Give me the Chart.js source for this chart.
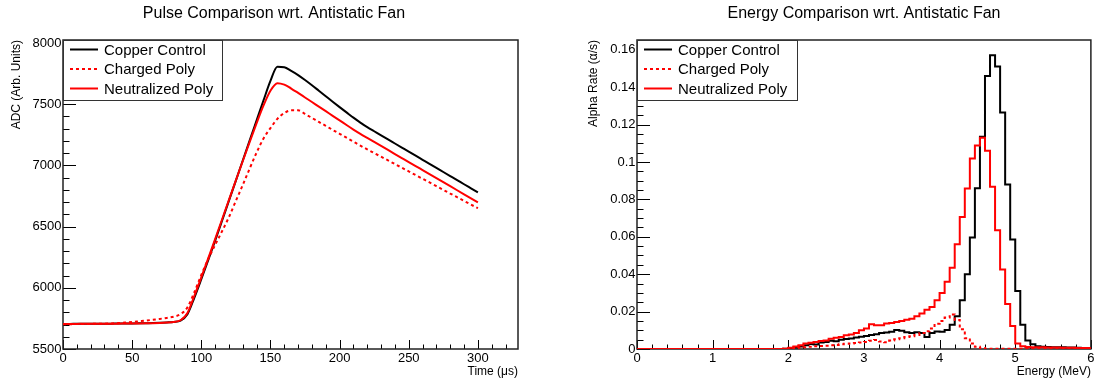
<!DOCTYPE html>
<html>
<head>
<meta charset="utf-8">
<script src="https://cdn.jsdelivr.net/npm/chart.js@4.4.1/dist/chart.umd.min.js"></script>
<style>
  html, body { margin: 0; padding: 0; background: #fff; }
  #wrap { position: relative; width: 1096px; height: 381px; overflow: hidden; }
  canvas { position: absolute; top: 0; }
  #pulse { left: 0; }
  #energy { left: 548px; }
</style>
</head>
<body>
<div id="wrap">
  <canvas id="pulse" width="548" height="381"></canvas>
  <canvas id="energy" width="548" height="381"></canvas>
</div>
<script>
// ---- pulse traces (ADC vs time, sampled every 5 us) ----
const pulseTimes = [
  0, 5, 10, 15, 20, 25, 30, 35, 40, 45,
  50, 55, 60, 65, 70, 75, 80, 85, 90, 95,
  100, 105, 110, 115, 120, 125, 130, 135, 140, 145,
  150, 155, 160, 165, 170, 175, 180, 185, 190, 195,
  200, 205, 210, 215, 220, 225, 230, 235, 240, 245,
  250, 255, 260, 265, 270, 275, 280, 285, 290, 295,
  300
];
const copperPulse = [
  5705, 5705, 5706, 5706, 5706, 5707, 5707, 5707, 5708, 5708,
  5709, 5710, 5711, 5712, 5714, 5717, 5721, 5732, 5785, 5920,
  6070, 6225, 6385, 6548, 6712, 6876, 7040, 7204, 7368, 7532,
  7690, 7806, 7802, 7772, 7738, 7698, 7655, 7610, 7565, 7520,
  7476, 7433, 7390, 7350, 7312, 7279, 7246, 7212, 7179, 7146,
  7113, 7079, 7046, 7013, 6979, 6946, 6913, 6880, 6846, 6813,
  6780
];
const chargedPulse = [
  5703, 5703, 5704, 5704, 5705, 5706, 5707, 5709, 5712, 5716,
  5720, 5726, 5732, 5739, 5746, 5754, 5764, 5785, 5840, 5965,
  6105, 6235, 6350, 6462, 6578, 6710, 6840, 6975, 7105, 7220,
  7305, 7380, 7428, 7450, 7450, 7420, 7388, 7355, 7323, 7290,
  7258, 7226, 7194, 7162, 7131, 7101, 7071, 7041, 7011, 6981,
  6951, 6921, 6891, 6861, 6830, 6800, 6770, 6740, 6710, 6680,
  6650
];
const neutralPulse = [
  5705, 5705, 5705, 5706, 5706, 5706, 5707, 5707, 5707, 5708,
  5708, 5709, 5710, 5711, 5713, 5716, 5721, 5735, 5795, 5935,
  6085, 6240, 6398, 6558, 6718, 6878, 7036, 7192, 7345, 7490,
  7610, 7672, 7660, 7628, 7592, 7555, 7518, 7480, 7443, 7405,
  7368, 7330, 7293, 7258, 7225, 7192, 7159, 7126, 7093, 7060,
  7027, 6995, 6962, 6929, 6896, 6863, 6830, 6797, 6764, 6731,
  6698
];
const timeTicks = [0, 50, 100, 150, 200, 250, 300];
const adcTicks = [5500, 6000, 6500, 7000, 7500, 8000];

// ---- energy spectra (alpha rate per bin, 90 bins of 1/15 MeV) ----
const energyBinWidth = 1 / 15;
const copperRate = [
  0, 0, 0, 0, 0, 0, 0, 0, 0, 0,
  0, 0, 0, 0, 0, 0, 0, 0, 0, 0,
  0, 0, 0, 0, 0, 0, 0, 0, 0, 0.0002,
  0.0004, 0.0008, 0.0014, 0.0020, 0.0027, 0.0024, 0.0035, 0.0038, 0.0044, 0.0042,
  0.0050, 0.0054, 0.0056, 0.0062, 0.0066, 0.0070, 0.0075, 0.0079, 0.0085, 0.0088,
  0.0092, 0.0102, 0.0098, 0.0090, 0.0086, 0.0090, 0.0086, 0.0064, 0.0086, 0.0094,
  0.0092, 0.0102, 0.0130, 0.0175, 0.0260, 0.0400, 0.0596, 0.0860, 0.1135, 0.1460,
  0.1570, 0.1510, 0.1265, 0.0880, 0.0585, 0.0310, 0.0130, 0.0045, 0.0025, 0.0015,
  0.0012, 0.0011, 0.0010, 0.0010, 0.0009, 0.0008, 0.0008, 0.0007, 0.0006, 0.0005
];
const chargedRate = [
  0, 0, 0, 0, 0, 0, 0, 0, 0, 0,
  0, 0, 0, 0, 0, 0, 0, 0, 0, 0,
  0, 0, 0, 0, 0, 0, 0, 0, 0, 0.0001,
  0.0003, 0.0005, 0.0008, 0.0010, 0.0012, 0.0015, 0.0016, 0.0018, 0.0020, 0.0022,
  0.0025, 0.0028, 0.0030, 0.0032, 0.0035, 0.0038, 0.0044, 0.0048, 0.0040, 0.0036,
  0.0045, 0.0052, 0.0058, 0.0064, 0.0068, 0.0075, 0.0085, 0.0095, 0.0110, 0.0135,
  0.0150, 0.0168, 0.0185, 0.0155, 0.0105, 0.0058, 0.0030, 0.0012, 0.0005, 0.0002,
  0.0001, 0.0001, 0.0001, 0.0001, 0.0001, 0.0001, 0.0001, 0.0001, 0.0001, 0.0001,
  0.0001, 0.0001, 0.0001, 0.0001, 0.0001, 0.0001, 0.0001, 0.0001, 0.0001, 0.0001
];
const neutralRate = [
  0, 0, 0, 0, 0, 0, 0, 0, 0, 0,
  0, 0, 0, 0, 0, 0, 0, 0, 0, 0,
  0, 0, 0, 0, 0, 0, 0, 0, 0, 0.0002,
  0.0007, 0.0014, 0.0020, 0.0029, 0.0034, 0.0037, 0.0043, 0.0046, 0.0055, 0.0060,
  0.0064, 0.0073, 0.0078, 0.0086, 0.0100, 0.0110, 0.0132, 0.0127, 0.0127, 0.0136,
  0.0139, 0.0144, 0.0150, 0.0157, 0.0162, 0.0175, 0.0190, 0.0210, 0.0225, 0.0260,
  0.0300, 0.0360, 0.0435, 0.0560, 0.0706, 0.0858, 0.1018, 0.1088, 0.1130, 0.1060,
  0.0867, 0.0635, 0.0425, 0.0240, 0.0123, 0.0030, 0.0015, 0.0011, 0.0010, 0.0009,
  0.0009, 0.0008, 0.0008, 0.0008, 0.0007, 0.0007, 0.0007, 0.0006, 0.0006, 0.0006
];
const energyTicks = [0, 1, 2, 3, 4, 5, 6];
const rateTicks = [0, 0.02, 0.04, 0.06, 0.08, 0.1, 0.12, 0.14, 0.16];

const seriesNames = ['Copper Control', 'Charged Poly', 'Neutralized Poly'];

const FONT = "'Liberation Sans', Arial, Helvetica, sans-serif";

// ROOT-like frame with inward ticks on the left and bottom axes
const rootFrame = {
    id: 'rootFrame',
    beforeDatasetsDraw(chart, args, opts) {
        const { ctx, chartArea: a, scales: { x, y } } = chart;
        ctx.save();
        ctx.strokeStyle = '#000';
        ctx.lineWidth = 1;
        ctx.beginPath();
        for (let v = x.min; v <= x.max + 1e-9; v += opts.xMinor) {
            const px = Math.round(x.getPixelForValue(v)) + 0.5;
            ctx.moveTo(px, a.bottom);
            ctx.lineTo(px, a.bottom - 4.5);
        }
        opts.xMajor.forEach((v) => {
            const px = Math.round(x.getPixelForValue(v)) + 0.5;
            ctx.moveTo(px, a.bottom);
            ctx.lineTo(px, a.bottom - 9);
        });
        for (let v = y.min; v <= y.max + 1e-9; v += opts.yMinor) {
            const py = Math.round(y.getPixelForValue(v)) + 0.5;
            ctx.moveTo(a.left, py);
            ctx.lineTo(a.left + 6.5, py);
        }
        opts.yMajor.forEach((v) => {
            const py = Math.round(y.getPixelForValue(v)) + 0.5;
            ctx.moveTo(a.left, py);
            ctx.lineTo(a.left + 13, py);
        });
        ctx.stroke();
        ctx.lineWidth = 1.5;
        ctx.strokeStyle = '#222';
        ctx.strokeRect(a.left, a.top, a.right - a.left, a.bottom - a.top);
        ctx.restore();
    },
};

// boxed legend in the upper-left corner of the frame
const boxLegend = {
    id: 'boxLegend',
    afterDatasetsDraw(chart, args, opts) {
        const { ctx, chartArea: a } = chart;
        const x0 = a.left;
        const y0 = a.top;
        ctx.save();
        ctx.fillStyle = '#fff';
        ctx.fillRect(x0, y0, opts.width, 60);
        ctx.strokeStyle = '#333';
        ctx.lineWidth = 1;
        ctx.strokeRect(x0 + 0.5, y0 + 0.5, opts.width, 60);
        ctx.font = `15px ${FONT}`;
        ctx.textBaseline = 'middle';
        chart.data.datasets.forEach((ds, i) => {
            const cy = y0 + 9.5 + i * 19.5;
            ctx.strokeStyle = ds.borderColor;
            ctx.lineWidth = 2;
            ctx.setLineDash(ds.borderDash || []);
            ctx.beginPath();
            ctx.moveTo(x0 + 7, cy);
            ctx.lineTo(x0 + 35, cy);
            ctx.stroke();
            ctx.setLineDash([]);
            ctx.fillStyle = '#000';
            ctx.fillText(ds.label, x0 + 41, cy + 1);
        });
        ctx.restore();
    },
};

// pad title
const padTitle = {
    id: 'padTitle',
    afterDraw(chart, args, opts) {
        const { ctx } = chart;
        ctx.save();
        ctx.font = `16px ${FONT}`;
        ctx.fillStyle = '#000';
        ctx.textAlign = 'center';
        ctx.textBaseline = 'middle';
        ctx.fillText(opts.text, opts.x, 14);
        ctx.restore();
    },
};

function axisOptions(min, max, ticks, fmt, fit, title, titlePad) {
    return {
        type: 'linear',
        min: min,
        max: max,
        afterFit: fit,
        afterBuildTicks: (s) => { s.ticks = ticks.map((v) => ({ value: v })); },
        grid: { display: false, drawTicks: false },
        border: { display: false },
        ticks: {
            autoSkip: false,
            maxRotation: 0,
            padding: 1.5,
            color: '#000',
            font: { family: FONT, size: 13 },
            callback: fmt,
        },
        title: {
            display: true,
            text: title,
            align: 'end',
            color: '#000',
            padding: titlePad,
            font: { family: FONT, size: 12 },
        },
    };
}

function lineSet(label, data, color, dash, order, extra) {
    return Object.assign({
        label: label,
        data: data,
        borderColor: color,
        borderWidth: 2,
        borderDash: dash,
        pointRadius: 0,
        fill: false,
        order: order,
    }, extra);
}

Chart.defaults.font.family = FONT;

// pulse chart
const pulsePoints = (vals) => vals.map((v, i) => ({ x: pulseTimes[i], y: v }));
new Chart(document.getElementById('pulse').getContext('2d'), {
    type: 'line',
    data: {
        datasets: [
            lineSet(seriesNames[0], pulsePoints(copperPulse), '#000000', [], 3, { cubicInterpolationMode: 'monotone' }),
            lineSet(seriesNames[1], pulsePoints(chargedPulse), '#ff0000', [3, 3], 2, { cubicInterpolationMode: 'monotone' }),
            lineSet(seriesNames[2], pulsePoints(neutralPulse), '#ff0000', [], 1, { cubicInterpolationMode: 'monotone' }),
        ],
    },
    options: {
        responsive: false,
        animation: false,
        devicePixelRatio: 1,
        layout: { autoPadding: false, padding: { top: 40, right: 30, bottom: 0, left: 0 } },
        scales: {
            x: axisOptions(0, 329, timeTicks, (v) => String(v),
                (s) => { s.height = 32; }, 'Time (\u03bcs)', { top: 0, bottom: 2 }),
            y: axisOptions(5500, 8024.5, adcTicks, (v) => String(v),
                (s) => { s.width = 63; }, 'ADC (Arb. Units)', { top: 9, bottom: 0 }),
        },
        plugins: {
            legend: { display: false },
            tooltip: { enabled: false },
            rootFrame: { xMinor: 10, xMajor: timeTicks, yMinor: 100, yMajor: adcTicks },
            boxLegend: { width: 159 },
            padTitle: { text: 'Pulse Comparison wrt. Antistatic Fan', x: 274 },
        },
    },
    plugins: [rootFrame, boxLegend, padTitle],
});

// energy chart: histogram outlines through bin edges
const histPoints = (vals) => {
    const pts = vals.map((v, i) => ({ x: i * energyBinWidth, y: v }));
    pts.push({ x: vals.length * energyBinWidth, y: vals[vals.length - 1] });
    return pts;
};
new Chart(document.getElementById('energy').getContext('2d'), {
    type: 'line',
    data: {
        datasets: [
            lineSet(seriesNames[0], histPoints(copperRate), '#000000', [], 3, { stepped: true }),
            lineSet(seriesNames[1], histPoints(chargedRate), '#ff0000', [3, 3], 2, { stepped: true }),
            lineSet(seriesNames[2], histPoints(neutralRate), '#ff0000', [], 1, { stepped: true }),
        ],
    },
    options: {
        responsive: false,
        animation: false,
        devicePixelRatio: 1,
        layout: { autoPadding: false, padding: { top: 40, right: 5, bottom: 0, left: 0 } },
        scales: {
            x: axisOptions(0, 6, energyTicks, (v) => String(v),
                (s) => { s.height = 32; }, 'Energy (MeV)', { top: 0, bottom: 2 }),
            y: axisOptions(0, 0.1652, rateTicks, (v) => String(Number(v.toFixed(2))),
                (s) => { s.width = 89; }, 'Alpha Rate (\u03b1/s)', { top: 38, bottom: 0 }),
        },
        plugins: {
            legend: { display: false },
            tooltip: { enabled: false },
            rootFrame: { xMinor: 0.2, xMajor: energyTicks, yMinor: 0.005, yMajor: rateTicks },
            boxLegend: { width: 160 },
            padTitle: { text: 'Energy Comparison wrt. Antistatic Fan', x: 316 },
        },
    },
    plugins: [rootFrame, boxLegend, padTitle],
});
</script>
</body>
</html>
